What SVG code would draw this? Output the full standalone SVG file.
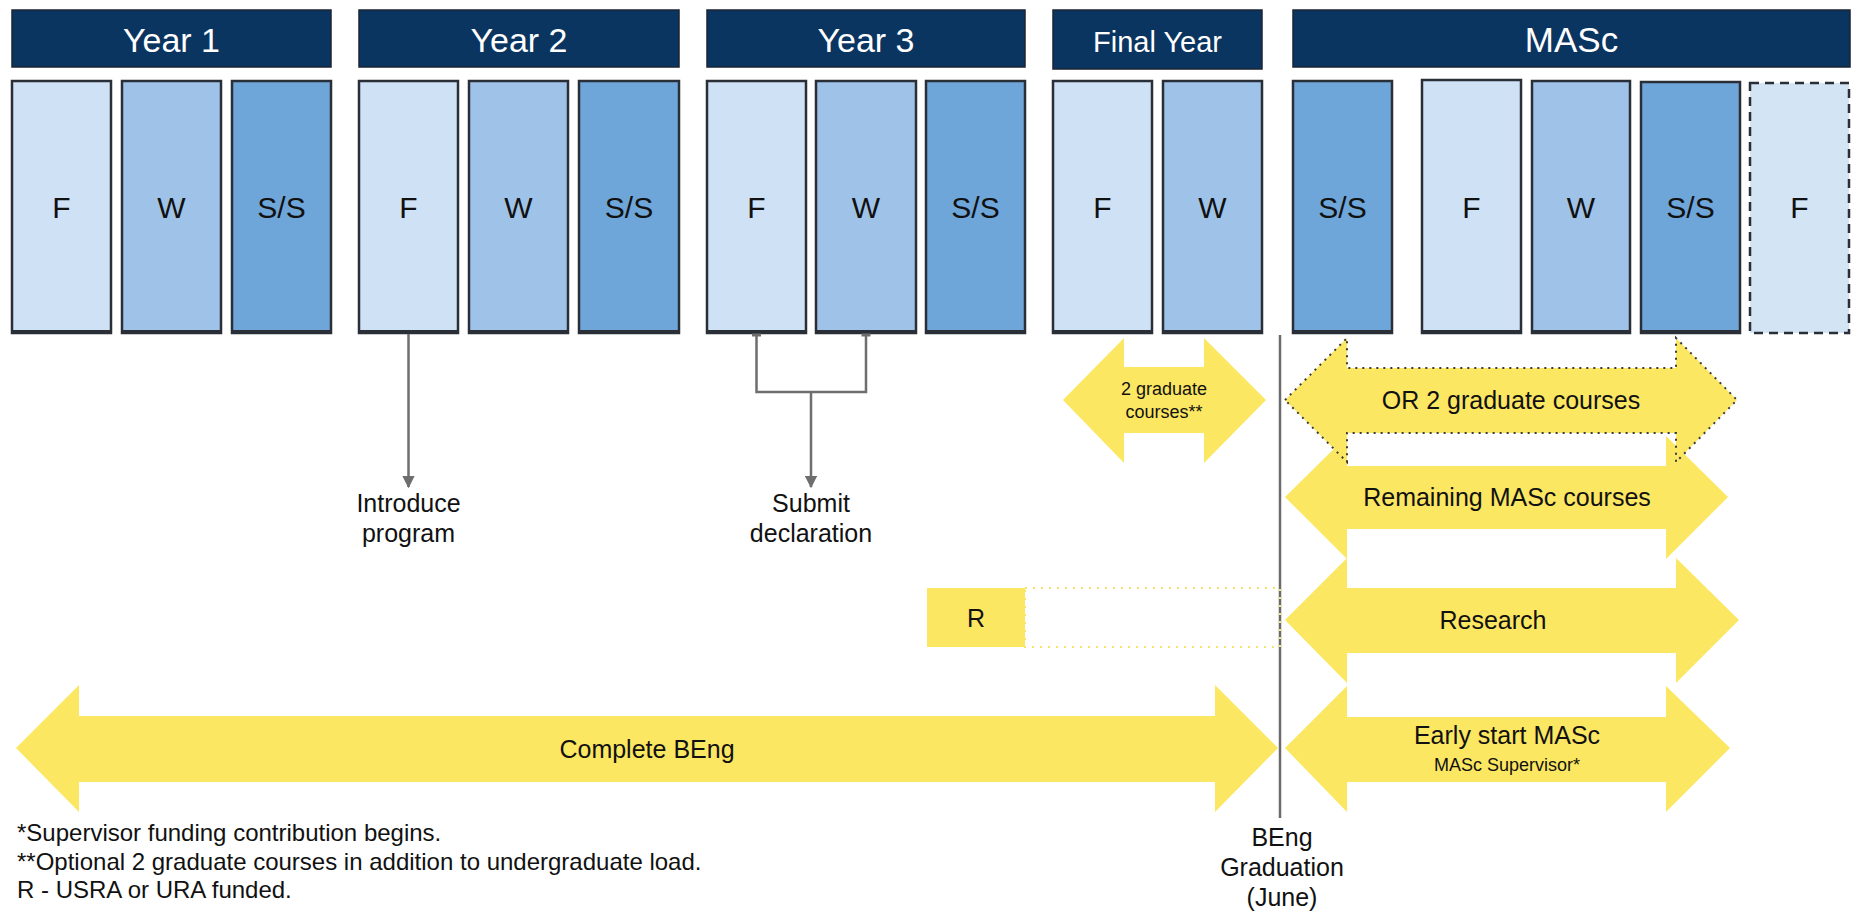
<svg xmlns="http://www.w3.org/2000/svg" width="1855" height="915" viewBox="0 0 1855 915">
<style>
.hdr{fill:#0a3561;stroke:#1b2533;stroke-width:1.5}
.ht{font-family:"Liberation Sans",Arial,sans-serif;fill:#fff;text-anchor:middle}
.box{stroke:#2a2f37;stroke-width:2.5}
.f{fill:#cfe1f4}.w{fill:#9fc3e8}.s{fill:#6fa6d9}
.bt{stroke:#2a2f37;stroke-width:4}
.st{font-family:"Liberation Sans",Arial,sans-serif;font-size:30px;fill:#111;text-anchor:middle}
.yel{fill:#fce762}
.lbl{font-family:"Liberation Sans",Arial,sans-serif;font-size:25px;fill:#111;text-anchor:middle}
.sm{font-family:"Liberation Sans",Arial,sans-serif;font-size:18px;fill:#111;text-anchor:middle}
.con{stroke:#6e6e6e;stroke-width:2.5;fill:none}
.foot{font-family:"Liberation Sans",Arial,sans-serif;font-size:24px;fill:#111}
</style>
<defs>
<marker id="ah" viewBox="0 0 10 10" refX="9" refY="5" markerWidth="5" markerHeight="5" orient="auto" markerUnits="strokeWidth">
<path d="M0,0 L10,5 L0,10 z" fill="#6e6e6e"/>
</marker>
</defs>
<rect width="1855" height="915" fill="#fff"/>

<g id="year1">
<rect class="hdr" x="12" y="10" width="319" height="57"/>
<text class="ht" x="171.5" y="52" font-size="34">Year 1</text>
<rect class="box f" x="12" y="81" width="99" height="252"/><line class="bt" x1="12" y1="332" x2="111" y2="332"/><text class="st" x="61.5" y="218">F</text>
<rect class="box w" x="122" y="81" width="99" height="252"/><line class="bt" x1="122" y1="332" x2="221" y2="332"/><text class="st" x="171.5" y="218">W</text>
<rect class="box s" x="232" y="81" width="99" height="252"/><line class="bt" x1="232" y1="332" x2="331" y2="332"/><text class="st" x="281.5" y="218">S/S</text>
</g>

<g id="year2">
<rect class="hdr" x="359" y="10" width="320" height="57"/>
<text class="ht" x="519" y="52" font-size="34">Year 2</text>
<rect class="box f" x="359" y="81" width="99" height="252"/><line class="bt" x1="359" y1="332" x2="458" y2="332"/><text class="st" x="408.5" y="218">F</text>
<rect class="box w" x="469" y="81" width="99" height="252"/><line class="bt" x1="469" y1="332" x2="568" y2="332"/><text class="st" x="518.5" y="218">W</text>
<rect class="box s" x="579" y="81" width="100" height="252"/><line class="bt" x1="579" y1="332" x2="679" y2="332"/><text class="st" x="629" y="218">S/S</text>
</g>

<g id="year3">
<rect class="hdr" x="707" y="10" width="318" height="57"/>
<text class="ht" x="866" y="52" font-size="34">Year 3</text>
<rect class="box f" x="707" y="81" width="99" height="252"/><line class="bt" x1="707" y1="332" x2="806" y2="332"/><text class="st" x="756.5" y="218">F</text>
<rect class="box w" x="816" y="81" width="100" height="252"/><line class="bt" x1="816" y1="332" x2="916" y2="332"/><text class="st" x="866" y="218">W</text>
<rect class="box s" x="926" y="81" width="99" height="252"/><line class="bt" x1="926" y1="332" x2="1025" y2="332"/><text class="st" x="975.5" y="218">S/S</text>
</g>

<g id="finalyear">
<rect class="hdr" x="1053" y="10" width="209" height="59"/>
<text class="ht" x="1157.5" y="52" font-size="29">Final Year</text>
<rect class="box f" x="1053" y="81" width="99" height="252"/><line class="bt" x1="1053" y1="332" x2="1152" y2="332"/><text class="st" x="1102.5" y="218">F</text>
<rect class="box w" x="1163" y="81" width="99" height="252"/><line class="bt" x1="1163" y1="332" x2="1262" y2="332"/><text class="st" x="1212.5" y="218">W</text>
</g>

<g id="masc">
<rect class="hdr" x="1293" y="10" width="557" height="57"/>
<text class="ht" x="1571.5" y="52" font-size="35">MASc</text>
<rect class="box s" x="1293" y="81" width="99" height="252"/><line class="bt" x1="1293" y1="332" x2="1392" y2="332"/><text class="st" x="1342.5" y="218">S/S</text>
<rect class="box f" x="1422" y="80" width="99" height="253"/><line class="bt" x1="1422" y1="332" x2="1521" y2="332"/><text class="st" x="1471.5" y="218">F</text>
<rect class="box w" x="1532" y="81" width="98" height="252"/><line class="bt" x1="1532" y1="332" x2="1630" y2="332"/><text class="st" x="1581" y="218">W</text>
<rect class="box s" x="1641" y="82" width="99" height="251"/><line class="bt" x1="1641" y1="332" x2="1740" y2="332"/><text class="st" x="1690.5" y="218">S/S</text>
<rect x="1750" y="83" width="99" height="250" fill="#d3e4f5" stroke="#2a2f37" stroke-width="2.5" stroke-dasharray="9,6"/><text class="st" x="1799.5" y="218">F</text>
</g>

<g id="connectors">
<line class="con" x1="408.5" y1="334" x2="408.5" y2="487" marker-end="url(#ah)"/>
<path class="con" d="M756.5,334 V392 H866 V334"/>
<line x1="752" y1="335" x2="761" y2="335" stroke="#6e6e6e" stroke-width="3"/>
<line x1="861.5" y1="335" x2="870.5" y2="335" stroke="#6e6e6e" stroke-width="3"/>
<line class="con" x1="811" y1="392" x2="811" y2="487" marker-end="url(#ah)"/>
<line x1="1280" y1="335" x2="1280" y2="818" stroke="#6b6b6b" stroke-width="2.5"/>
</g>

<g id="milestone-introduce">
<text class="lbl" x="408.5" y="512">Introduce</text>
<text class="lbl" x="408.5" y="542">program</text>
</g>
<g id="milestone-submit">
<text class="lbl" x="811" y="512">Submit</text>
<text class="lbl" x="811" y="542">declaration</text>
</g>

<g id="arrow-2grad">
<path class="yel" d="M1063,400 L1124,338 V367 H1204 V338 L1266,400 L1204,463 V433 H1124 V463 Z"/>
<text class="sm" x="1164" y="395">2 graduate</text>
<text class="sm" x="1164" y="418">courses**</text>
</g>

<g id="arrow-remaining">
<path class="yel" d="M1285,497 L1347,436 V466 H1666 V436 L1728,497 L1666,559 V529 H1347 V559 Z"/>
<text class="lbl" x="1507" y="506">Remaining MASc courses</text>
</g>

<g id="arrow-or">
<path class="yel" d="M1285,400 L1347,338 V368 H1676 V338 L1737,400 L1676,462 V433 H1347 V462 Z" stroke="#3a3a3a" stroke-width="2" stroke-dasharray="2,5"/>
<text class="lbl" x="1511" y="409">OR 2 graduate courses</text>
</g>

<g id="r-box">
<rect x="1025" y="588" width="255" height="59" fill="none" stroke="#f5e36a" stroke-width="2" stroke-dasharray="2,6"/>
<rect class="yel" x="927" y="588" width="98" height="59"/>
<text class="lbl" x="976" y="627" font-size="24">R</text>
</g>

<g id="arrow-research">
<path class="yel" d="M1285,620 L1347,558 V588 H1676 V558 L1739,620 L1676,683 V653 H1347 V683 Z"/>
<text class="lbl" x="1493" y="629">Research</text>
</g>

<g id="arrow-early">
<path class="yel" d="M1285,748 L1347,686 V717 H1666 V686 L1730,748 L1666,812 V782 H1347 V812 Z"/>
<text class="lbl" x="1507" y="744">Early start MASc</text>
<text class="sm" x="1507" y="771" font-size="17">MASc Supervisor*</text>
</g>

<g id="arrow-beng">
<path class="yel" d="M16,748 L79,685 V716 H1215 V685 L1278,748 L1215,812 V782 H79 V812 Z"/>
<text class="lbl" x="647" y="758">Complete BEng</text>
</g>

<g id="graduation">
<text class="lbl" x="1282" y="846">BEng</text>
<text class="lbl" x="1282" y="876">Graduation</text>
<text class="lbl" x="1282" y="906">(June)</text>
</g>

<g id="footnotes">
<text class="foot" x="17" y="841">*Supervisor funding contribution begins.</text>
<text class="foot" x="17" y="870">**Optional 2 graduate courses in addition to undergraduate load.</text>
<text class="foot" x="17" y="898">R - USRA or URA funded.</text>
</g>
</svg>
